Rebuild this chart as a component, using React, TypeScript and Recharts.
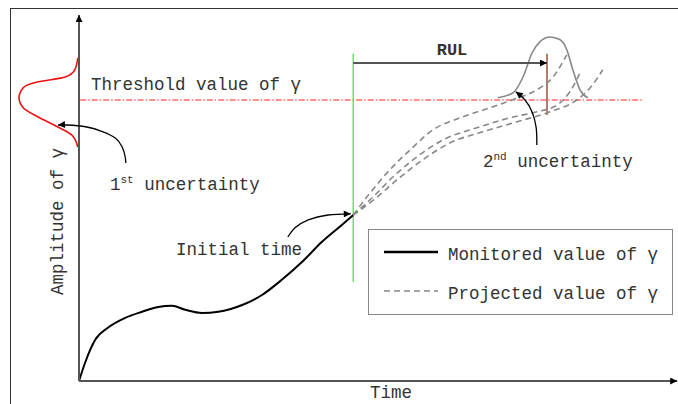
import React from 'react';
import { ComposedChart, Line, XAxis, YAxis, ReferenceLine, Legend } from 'recharts';

// time unit = 6px, amplitude unit = 4px on the 678x404 canvas
const X_DOMAIN = [-79 / 6, 599 / 6];
const Y_DOMAIN = [-23 / 4, 381 / 4];

const MONITORED = [
  { t: 0, a: 0 }, { t: 1, a: 4.5 }, { t: 2.7, a: 10.3 }, { t: 4.8, a: 13.3 }, { t: 7.7, a: 15.8 },
  { t: 10.5, a: 17.3 }, { t: 13.2, a: 18.5 }, { t: 15.5, a: 18.8 }, { t: 17.7, a: 17.8 },
  { t: 20.5, a: 17 }, { t: 23.2, a: 17.3 }, { t: 27.2, a: 19 }, { t: 30.5, a: 21.5 },
  { t: 33.8, a: 25.3 }, { t: 37.2, a: 29.8 }, { t: 40.5, a: 34.8 }, { t: 43.8, a: 39 }, { t: 45.7, a: 41.5 },
];

const PROJ_UPPER = [
  { t: 45.7, a: 41.5 }, { t: 48.5, a: 47 }, { t: 51.8, a: 52.8 }, { t: 55.2, a: 57.8 }, { t: 59, a: 62.8 },
  { t: 63.5, a: 65.8 }, { t: 68.5, a: 68.3 }, { t: 72.3, a: 70.3 }, { t: 76.3, a: 72.8 }, { t: 79, a: 76 },
  { t: 81.3, a: 81.5 },
];
const PROJ_MIDDLE = [
  { t: 45.7, a: 41.5 }, { t: 49, a: 46 }, { t: 52.3, a: 51 }, { t: 56.3, a: 56 }, { t: 60.7, a: 60.3 },
  { t: 66.3, a: 63.3 }, { t: 71.8, a: 65.8 }, { t: 76.3, a: 67.3 }, { t: 79.7, a: 69 }, { t: 81.8, a: 72.3 },
  { t: 83.5, a: 77 },
];
const PROJ_LOWER = [
  { t: 45.7, a: 41.5 }, { t: 49.3, a: 45.5 }, { t: 53, a: 50.3 }, { t: 57.3, a: 55.3 }, { t: 61.8, a: 59.5 },
  { t: 67.3, a: 62.3 }, { t: 73, a: 64.8 }, { t: 78.5, a: 67.3 }, { t: 83, a: 70.3 }, { t: 85.2, a: 73.3 },
  { t: 87.3, a: 77.8 },
];

// uncertainty bells
const FIRST_BELL = [
  { t: -0.2, a: 80.8 }, { t: -0.7, a: 77.8 }, { t: -2.3, a: 76 }, { t: -6.8, a: 74.8 }, { t: -9.3, a: 73.3 },
  { t: -10, a: 70.8 }, { t: -9.3, a: 68.3 }, { t: -6.8, a: 66 }, { t: -3.5, a: 63.5 }, { t: -1.2, a: 61.5 },
  { t: -0.2, a: 58.5 },
];
const SECOND_BELL = [
  { t: 69.8, a: 70.8 }, { t: 72.3, a: 72 }, { t: 74, a: 76 }, { t: 75.5, a: 82 }, { t: 76.8, a: 84.8 },
  { t: 78.5, a: 86 }, { t: 80.2, a: 85.3 }, { t: 81.3, a: 82.8 }, { t: 82.3, a: 77.8 }, { t: 83.5, a: 72.8 },
  { t: 84.8, a: 70.8 },
];

// axes, annotations and arrows
const Y_AXIS_LINE = [{ t: 0, a: 0 }, { t: 0, a: 91.5 }];
const X_AXIS_LINE = [{ t: 0, a: 0 }, { t: 99.7, a: 0 }];
const RUL_ARROW = [{ t: 45.7, a: 79.5 }, { t: 78, a: 79.5 }];
const FIRST_ARROW = [
  { t: 7.8, a: 54.5 }, { t: 7.7, a: 56 }, { t: 7.2, a: 58.5 }, { t: 6, a: 60.8 }, { t: 4, a: 62.3 },
  { t: 1.3, a: 63.5 }, { t: -2, a: 64 }, { t: -3.5, a: 64 },
];
const INITIAL_ARROW = [
  { t: 34.8, a: 36 }, { t: 36, a: 38.3 }, { t: 38.2, a: 40.3 }, { t: 41.5, a: 41.5 }, { t: 45.3, a: 41.8 },
];
const SECOND_ARROW = [
  { t: 76.3, a: 59 }, { t: 76.2, a: 63.3 }, { t: 75.5, a: 67.3 }, { t: 74.3, a: 70.3 }, { t: 72.8, a: 72.3 },
];

const THRESHOLD = 70.25;
const INITIAL_TIME = 45.7;
const FAILURE_TIME = 78;

const FONT = '"Liberation Mono", "Courier New", monospace';
const TXT = '#333';

const LegendBox = ({ payload }: any) => (
  <div style={{
    width: 303, height: 82, border: '1.3px solid #888', background: '#fff', paddingTop: 2,
    fontFamily: FONT, fontSize: 17.5, color: TXT, boxSizing: 'content-box', overflow: 'hidden',
  }}>
    {(payload || []).filter((p: any) => p.payload?.name).map((p: any, i: number) => (
      <div key={i} style={{ display: 'flex', alignItems: 'center', height: 39 }}>
        <svg width={64} height={10} style={{ marginLeft: 15 }}>
          <line x1={0} y1={5} x2={54} y2={5} stroke={p.color}
            strokeWidth={p.payload?.strokeDasharray ? 1.5 : 2.5}
            strokeDasharray={p.payload?.strokeDasharray} />
        </svg>
        <span style={{ marginTop: 6 }}>{p.value}</span>
      </div>
    ))}
  </div>
);

export default function App() {
  const guide = { dot: false, activeDot: false, isAnimationActive: false, legendType: 'none' as const };
  return (
    <div style={{ position: 'absolute', left: 0, top: 0, width: 678, height: 404, overflow: 'hidden', background: '#fff' }}>
      <div style={{
        position: 'absolute', left: 10, top: 8, width: 700, height: 420,
        borderLeft: '1.5px solid #333', borderTop: '1.5px solid #333',
      }} />
      <ComposedChart width={678} height={404} margin={{ top: 0, right: 0, bottom: 0, left: 0 }}
        style={{ position: 'absolute', left: 0, top: 0 }}>
        <defs>
          <marker id="arrowBlk" viewBox="0 0 10 10" refX={10} refY={5} markerWidth={10} markerHeight={7}
            markerUnits="userSpaceOnUse" orient="auto">
            <path d="M0,0 L10,5 L0,10 z" fill="#000" />
          </marker>
        </defs>
        <XAxis type="number" dataKey="t" domain={X_DOMAIN} allowDataOverflow hide />
        <YAxis type="number" dataKey="a" domain={Y_DOMAIN} allowDataOverflow hide />

        <ReferenceLine segment={[{ x: 0.2, y: THRESHOLD }, { x: 93.8, y: THRESHOLD }]}
          stroke="#ff6a6a" strokeWidth={1.3} strokeDasharray="6 2 1.5 2" />
        <ReferenceLine segment={[{ x: INITIAL_TIME, y: 81.8 }, { x: INITIAL_TIME, y: 24.8 }]}
          stroke="#1ee61e" strokeWidth={1.1} />
        <ReferenceLine segment={[{ x: FAILURE_TIME, y: 81.8 }, { x: FAILURE_TIME, y: 66.5 }]}
          stroke="#8a3a14" strokeWidth={1.3} />

        <Line name="Monitored value of γ" data={MONITORED} dataKey="a" type="monotone" stroke="#000"
          strokeWidth={2} dot={false} activeDot={false} isAnimationActive={false} />
        <Line name="Projected value of γ" data={PROJ_UPPER} dataKey="a" type="monotone" stroke="#888"
          strokeWidth={1.6} strokeDasharray="6 4" dot={false} activeDot={false} isAnimationActive={false} />
        <Line data={PROJ_MIDDLE} dataKey="a" type="monotone" stroke="#888" strokeWidth={1.6} strokeDasharray="6 4" {...guide} />
        <Line data={PROJ_LOWER} dataKey="a" type="monotone" stroke="#888" strokeWidth={1.6} strokeDasharray="6 4" {...guide} />

        <Line data={FIRST_BELL} dataKey="a" type="monotoneY" stroke="#ee1111" strokeWidth={1.6} {...guide} />
        <Line data={SECOND_BELL} dataKey="a" type="monotone" stroke="#888" strokeWidth={1.6} {...guide} />

        <Line data={Y_AXIS_LINE} dataKey="a" type="linear" stroke="#555" strokeWidth={2} markerEnd="url(#arrowBlk)" {...guide} />
        <Line data={X_AXIS_LINE} dataKey="a" type="linear" stroke="#555" strokeWidth={2} markerEnd="url(#arrowBlk)" {...guide} />
        <Line data={RUL_ARROW} dataKey="a" type="linear" stroke="#555" strokeWidth={2} markerEnd="url(#arrowBlk)" {...guide} />
        <Line data={FIRST_ARROW} dataKey="a" type="natural" stroke="#000" strokeWidth={1.3} markerEnd="url(#arrowBlk)" {...guide} />
        <Line data={INITIAL_ARROW} dataKey="a" type="natural" stroke="#000" strokeWidth={1.3} markerEnd="url(#arrowBlk)" {...guide} />
        <Line data={SECOND_ARROW} dataKey="a" type="natural" stroke="#000" strokeWidth={1.3} markerEnd="url(#arrowBlk)" {...guide} />

        <g fontFamily={FONT} fontSize={17.5} fill={TXT}>
          <text x={91} y={90}>Threshold value of γ</text>
          <text x={110} y={190}>1<tspan dy={-7} fontSize={11}>st</tspan><tspan dy={7}> uncertainty</tspan></text>
          <text x={483} y={167}>2<tspan dy={-7} fontSize={11}>nd</tspan><tspan dy={7}> uncertainty</tspan></text>
          <text x={176} y={255}>Initial time</text>
          <text x={452} y={55} textAnchor="middle" fontWeight="bold" fontSize={17}>RUL</text>
          <text x={370} y={398}>Time</text>
          <text x={63} y={221.5} textAnchor="middle" transform="rotate(-90 63 221.5)">Amplitude of γ</text>
        </g>

        <Legend layout="vertical" align="center" verticalAlign="middle" content={<LegendBox />}
          wrapperStyle={{ left: 368, top: 229, width: 307 }} />
      </ComposedChart>
    </div>
  );
}
